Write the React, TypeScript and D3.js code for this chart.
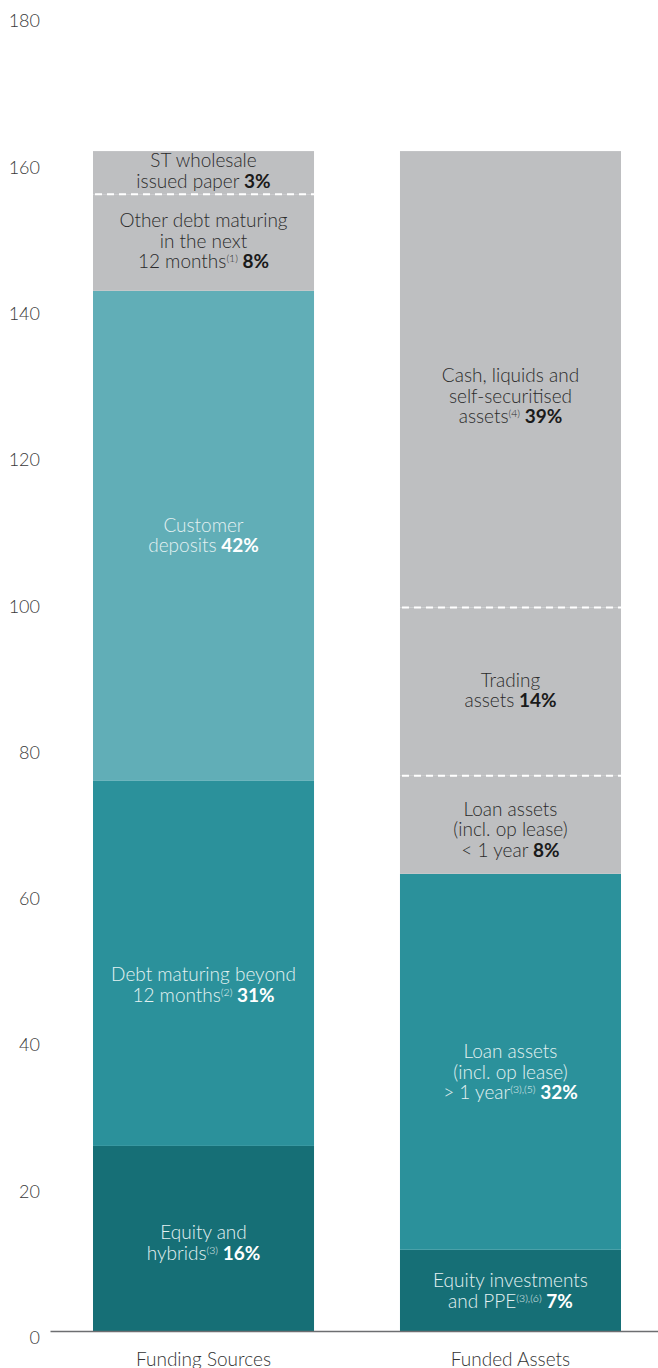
import React from "react";
import * as d3 from "d3";

const categories = ["Funding Sources", "Funded Assets"];

// Segments from bottom to top
const fundingNames = [
  "Equity and hybrids",
  "Debt maturing beyond 12 months",
  "Customer deposits",
  "Other debt maturing in the next 12 months",
  "ST wholesale issued paper",
];
const fundingValues = [25.3, 49.9, 67.0, 13.2, 5.9];
const fundingShares = ["16%", "31%", "42%", "8%", "3%"];

const fundedNames = [
  "Equity investments and PPE",
  "Loan assets > 1 year",
  "Loan assets < 1 year",
  "Trading assets",
  "Cash, liquids and self-securitised assets",
];
const fundedValues = [11.1, 51.4, 13.4, 23.0, 62.4];
const fundedShares = ["7%", "32%", "8%", "14%", "39%"];

const yTicks = [0, 20, 40, 60, 80, 100, 120, 140, 160, 180];

type Part = { t: string; sup?: boolean };
type Line = Part[];

// label text lines (share appended in bold on the last line)
const fundingLabels: Line[][] = [
  [[{ t: "Equity and" }], [{ t: "hybrids" }, { t: "(3)", sup: true }]],
  [[{ t: "Debt maturing beyond" }], [{ t: "12 months" }, { t: "(2)", sup: true }]],
  [[{ t: "Customer" }], [{ t: "deposits" }]],
  [[{ t: "Other debt maturing" }], [{ t: "in the next" }], [{ t: "12 months" }, { t: "(1)", sup: true }]],
  [[{ t: "ST wholesale" }], [{ t: "issued paper" }]],
];
const fundedLabels: Line[][] = [
  [[{ t: "Equity investments" }], [{ t: "and PPE" }, { t: "(3),(6)", sup: true }]],
  [[{ t: "Loan assets" }], [{ t: "(incl. op lease)" }], [{ t: "> 1 year" }, { t: "(3),(5)", sup: true }]],
  [[{ t: "Loan assets" }], [{ t: "(incl. op lease)" }], [{ t: "< 1 year" }]],
  [[{ t: "Trading" }], [{ t: "assets" }]],
  [[{ t: "Cash, liquids and" }], [{ t: "self-securitised" }], [{ t: "assets" }, { t: "(4)", sup: true }]],
];

const COLORS = {
  dark: "#166f76",
  mid: "#2b919b",
  light: "#61aeb7",
  grey: "#bebfc1",
};
const fundingColors = [COLORS.dark, COLORS.mid, COLORS.light, COLORS.grey, COLORS.grey];
const fundedColors = [COLORS.dark, COLORS.mid, COLORS.grey, COLORS.grey, COLORS.grey];
// vertical nudge (px) of each label block relative to segment centre
const fundingLabelDy = [4.4, 21.4, -0.5, -1.4, -1.6];
const fundedLabelDy = [0.5, 10.3, 5, -1, 16.8];

const W = 658;
const H = 1368;
const FONT = "Lato, 'Open Sans', sans-serif";
const LH = 20.5;

export default function App() {
  const y = d3.scaleLinear().domain([0, 180]).range([1331, 14.3]);
  const x = d3.scaleBand().domain(categories).range([93, 621]).paddingInner(0.28).paddingOuter(0);
  const bars = [
    { cat: categories[0], values: fundingValues, shares: fundingShares, labels: fundingLabels, colors: fundingColors, dy: fundingLabelDy, names: fundingNames },
    { cat: categories[1], values: fundedValues, shares: fundedShares, labels: fundedLabels, colors: fundedColors, dy: fundedLabelDy, names: fundedNames },
  ];

  return (
    <svg width={W} height={H} style={{ position: "absolute", left: 0, top: 0, display: "block" }} fontFamily={FONT}>
      {yTicks.map((t) => (
        <text key={t} x={40} y={y(t) + 13} textAnchor="end" fontSize={18} fill="#3a3a3a" fontWeight={300}>
          {t}
        </text>
      ))}
      {bars.map((b) => {
        const x0 = x(b.cat)!;
        const bw = x.bandwidth();
        const stacked: { v0: number; v1: number }[] = [];
        let acc = 0;
        b.values.forEach((v) => {
          stacked.push({ v0: acc, v1: acc + v });
          acc += v;
        });
        return (
          <g key={b.cat}>
            {stacked.map((s, i) => (
              <rect key={i} x={x0} y={y(s.v1)} width={bw} height={y(s.v0) - y(s.v1)} fill={b.colors[i]} />
            ))}
            {stacked.map((s, i) =>
              i > 0 && b.colors[i] === COLORS.grey && b.colors[i - 1] === COLORS.grey ? (
                <line key={"d" + i} x1={x0} x2={x0 + bw} y1={y(s.v0)} y2={y(s.v0)} stroke="#ffffff" strokeWidth={2} strokeDasharray="7 5" strokeDashoffset={-2} />
              ) : null
            )}
            {stacked.map((s, i) => {
              const lines = b.labels[i];
              const n = lines.length;
              const cy = (y(s.v0) + y(s.v1)) / 2 + b.dy[i];
              const first = cy - ((n - 1) * LH) / 2 + 6.5;
              const onGrey = b.colors[i] === COLORS.grey;
              const fill = onGrey ? "#2b2b2b" : "#e4f1f2";
              const boldFill = onGrey ? "#1a1a1a" : "#ffffff";
              const cx = x0 + bw / 2;
              return (
                <text key={"l" + i} textAnchor="middle" fontSize={19} fill={fill} fontWeight={300}>
                  {lines.map((ln, li) => {
                    const isLast = li === n - 1;
                    return (
                      <tspan key={li} x={cx} y={first + li * LH}>
                        {ln.map((p, pi) =>
                          p.sup ? (
                            <tspan key={pi} fontSize={10.5} dy={-6}>{p.t}</tspan>
                          ) : (
                            <tspan key={pi} dy={pi > 0 && ln[pi - 1].sup ? 6 : 0}>{p.t}</tspan>
                          )
                        )}
                        {isLast ? (
                          <tspan dy={ln[ln.length - 1].sup ? 6 : 0} fontWeight={700} fill={boldFill}>{" " + b.shares[i]}</tspan>
                        ) : null}
                      </tspan>
                    );
                  })}
                </text>
              );
            })}
            <text x={x0 + bw / 2} y={1366} textAnchor="middle" fontSize={19} fill="#333" fontWeight={300}>
              {b.cat}
            </text>
          </g>
        );
      })}
      <line x1={50.5} x2={W} y1={1331.5} y2={1331.5} stroke="#6d6e71" strokeWidth={1.5} />
    </svg>
  );
}
